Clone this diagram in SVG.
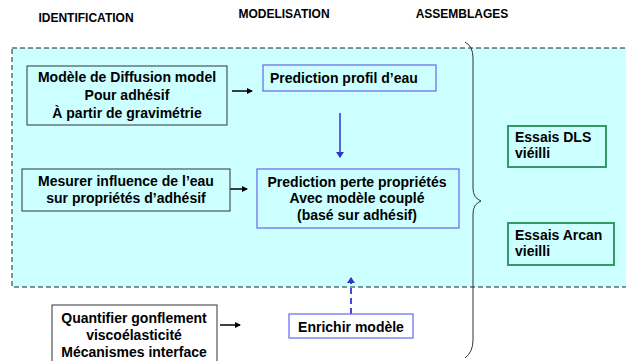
<svg xmlns="http://www.w3.org/2000/svg" width="626" height="361" viewBox="0 0 626 361">
<style>
text{font-family:"Liberation Sans",Arial,sans-serif;font-weight:bold;fill:#000}
.h{font-size:12px}
.t{font-size:14px}
.c{text-anchor:middle}
.gray{fill:#ccffff;stroke:#333;stroke-width:1}
.blue{fill:#ccffff;stroke:#6666ee;stroke-width:1.2}
.green{fill:#ccffff;stroke:#339966;stroke-width:2}
.arr{stroke:#000;stroke-width:1.5;fill:none}
</style>
<defs>
<marker id="ah" markerWidth="6" markerHeight="6" refX="5" refY="3" orient="auto" markerUnits="userSpaceOnUse"><path d="M0,0 L6,3 L0,6 Z" fill="#000"/></marker>
<marker id="bh" markerWidth="6" markerHeight="8" refX="5" refY="4" orient="auto" markerUnits="userSpaceOnUse"><path d="M0,0 L6,4 L0,8 Z" fill="#3333cc"/></marker>
</defs>
<rect width="626" height="361" fill="#fff"/>
<g id="headers">
<text class="h c" x="86" y="22">IDENTIFICATION</text>
<text class="h c" x="284" y="18">MODELISATION</text>
<text class="h c" x="462" y="18">ASSEMBLAGES</text>
</g>
<g id="zone">
<rect x="12" y="48" width="620" height="239" fill="#ccffff" stroke="#222" stroke-width="1" stroke-dasharray="5,3"/>
</g>
<g id="brace">
<path d="M465,42 Q473,46 473,58 L473,188 Q473,198 481,201 Q473,204 473,214 L473,340 Q473,352 465,358" fill="none" stroke="#333" stroke-width="1"/>
</g>
<g id="connectors">
<line class="arr" x1="232" y1="91" x2="252" y2="91" marker-end="url(#ah)"/>
<line class="arr" x1="226" y1="189" x2="247" y2="189" marker-end="url(#ah)"/>
<line class="arr" x1="220" y1="325" x2="240" y2="325" marker-end="url(#ah)"/>
<line x1="340" y1="113" x2="340" y2="157" stroke="#3333cc" stroke-width="1.5" marker-end="url(#bh)"/>
<line x1="351" y1="314" x2="351" y2="278" stroke="#3333cc" stroke-width="1.8" stroke-dasharray="6,4" marker-end="url(#bh)"/>
</g>
<g id="n-diffusion">
<rect class="gray" x="27" y="66" width="200" height="59"/>
<text class="t c" x="127" y="82">Modèle de Diffusion  model</text>
<text class="t c" x="127" y="100">Pour adhésif</text>
<text class="t c" x="127" y="118">À partir de gravimétrie</text>
</g>
<g id="n-profil">
<rect class="blue" x="263" y="65" width="173" height="26"/>
<text class="t" x="270" y="83">Prediction profil d’eau</text>
</g>
<g id="n-mesurer">
<rect class="gray" x="22" y="169" width="208" height="42"/>
<text class="t c" x="126" y="186">Mesurer influence de l’eau</text>
<text class="t c" x="126" y="203">sur propriétés d’adhésif</text>
</g>
<g id="n-perte">
<rect class="blue" x="257" y="169" width="202" height="59"/>
<text class="t c" x="357" y="187">Prediction perte propriétés</text>
<text class="t c" x="357" y="203">Avec modèle couplé</text>
<text class="t c" x="357" y="220">(basé sur adhésif)</text>
</g>
<g id="n-dls">
<rect class="green" x="508" y="126" width="98" height="41"/>
<text class="t" x="515" y="142">Essais DLS</text>
<text class="t" x="515" y="158">viéilli</text>
</g>
<g id="n-arcan">
<rect class="green" x="508" y="223" width="106" height="42"/>
<text class="t" x="515" y="240">Essais Arcan</text>
<text class="t" x="515" y="256">vieilli</text>
</g>
<g id="n-quantifier">
<rect x="52" y="305" width="165" height="60" fill="#fff" stroke="#333" stroke-width="1"/>
<text class="t c" x="134" y="323">Quantifier gonflement</text>
<text class="t c" x="134" y="340">viscoélasticité</text>
<text class="t c" x="134" y="357">Mécanismes interface</text>
</g>
<g id="n-enrichir">
<rect x="289" y="314" width="124" height="24" fill="#fff" stroke="#6666ee" stroke-width="1.2"/>
<text class="t c" x="351" y="332">Enrichir modèle</text>
</g>
</svg>
